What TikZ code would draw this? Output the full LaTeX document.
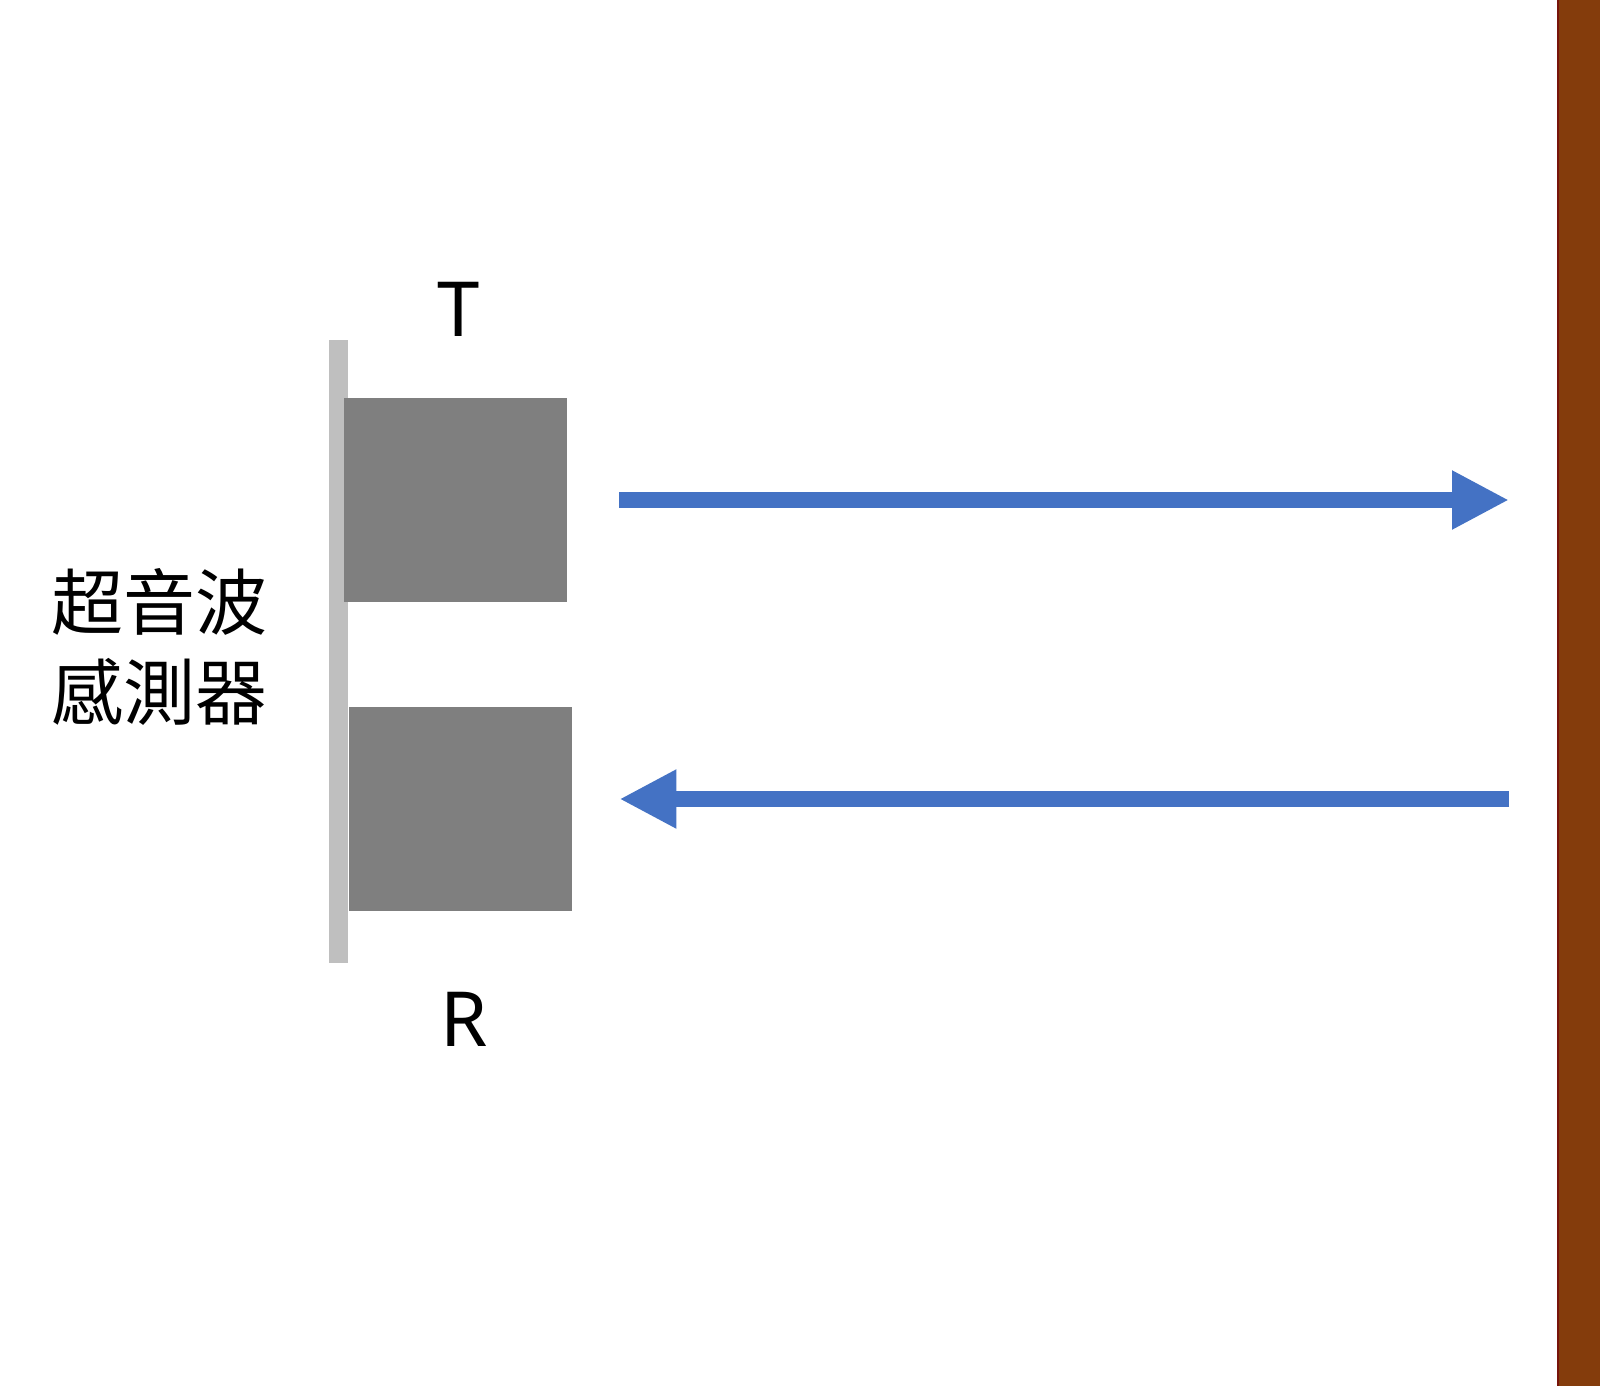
\documentclass[tikz,border=0pt]{standalone}
\usepackage{fontspec}
\setmainfont{Noto Sans}
\newfontfamily\cjk{Noto Sans CJK TC}
\usetikzlibrary{arrows.meta}
\definecolor{bargray}{HTML}{BFBFBF}
\definecolor{boxgray}{HTML}{7F7F7F}
\definecolor{arrowblue}{HTML}{4472C4}
\definecolor{wallbrown}{HTML}{843C0C}
\tikzset{
  sensorbox/.style={fill=boxgray, draw=none, inner sep=0pt, minimum width=111.7pt, minimum height=102pt},
  wave/.style={draw=arrowblue, line width=8.25pt, -{Triangle[length=28.5pt,width=27.5pt]}},
  lbl/.style={inner sep=0pt, font=\fontsize{38}{40}\selectfont}
}
\begin{document}
\begin{tikzpicture}[x=0.5pt,y=-0.5pt]
\useasboundingbox (0,0) rectangle (1600,1386);
\fill[white] (0,0) rectangle (1600,1386);
% wall
\fill[wallbrown] (1558,0) rectangle (1600,1386);
\draw[draw={rgb,255:red,120;green,20;blue,10}, line width=0.6pt] (1558,0) -- (1558,1386);
% sensor base bar
\node[fill=bargray, draw=none, inner sep=0pt, minimum width=9.7pt, minimum height=311.75pt] (bar) at (338.3,651.5) {};
% transmitter and receiver
\node[sensorbox] (tbox) at (455.6,500) {};
\node[sensorbox] (rbox) at (460.2,809) {};
% labels
\node[lbl, anchor=base] (tlbl) at (459,336) {T};
\node[lbl, anchor=base] (rlbl) at (464,1046) {R};
\node[inner sep=0pt, align=center, font=\cjk\fontsize{36}{45}\selectfont] (name) at (159,647) {超音波\\感測器};
% waves
\coordinate (t1) at (619.4,500);
\coordinate (t2) at (1509,500);
\coordinate (r1) at (1509,799);
\coordinate (r2) at (619.4,799);
\draw[wave] (t1) -- (t2);
\draw[wave] (r1) -- (r2);
\end{tikzpicture}
\end{document}
